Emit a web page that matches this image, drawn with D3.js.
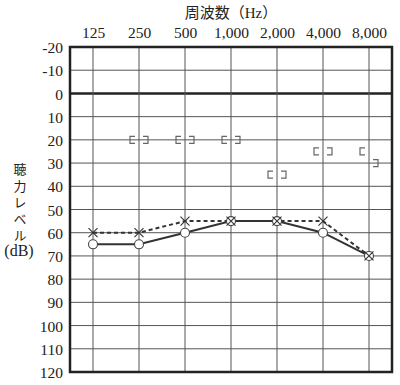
<!DOCTYPE html>
<html>
<head>
<meta charset="utf-8">
<script src="https://cdn.jsdelivr.net/npm/d3@7"></script>
<style>
  body { margin: 0; background: #fff; }
  svg { display: block; }
  text { font-family: "Liberation Serif", "DejaVu Serif", "Noto Sans CJK JP", serif; fill: #222; }
</style>
</head>
<body>
<div id="chart"></div>
<script>
// frequencies (Hz) and dB grid
const freqs = [125, 250, 500, 1000, 2000, 4000, 8000];
const dbTicks = d3.range(-20, 121, 10);

// air conduction thresholds
const rightAir = [65, 65, 60, 55, 55, 60, 70];   // circles, solid
const leftAir  = [60, 60, 55, 55, 55, 55, 70];   // crosses, dashed

// bone conduction (null = not measured)
const rightBone = [null, 20, 20, 20, 35, 25, 25]; // "["
const leftBone  = [null, 20, 20, 20, 35, 25, 30]; // "]"

const width = 400, height = 385;
const plotL = 70, plotR = 392, plotT = 47, plotB = 372;

const svg = d3.select("#chart").append("svg")
    .attr("width", width)
    .attr("height", height);

const x = d3.scaleLog().base(2)
    .domain([125 / Math.SQRT2, 8000 * Math.SQRT2])
    .range([plotL, plotR]);
const y = d3.scaleLinear()
    .domain([-20, 120])
    .range([plotT, plotB]);

// grid lines
const grid = svg.append("g").attr("stroke", "#555").attr("stroke-width", 1);
grid.selectAll("line.h")
    .data(dbTicks)
    .enter().append("line")
    .attr("x1", plotL).attr("x2", plotR)
    .attr("y1", d => y(d)).attr("y2", d => y(d))
    .attr("stroke", d => d === 0 ? "#222" : "#555")
    .attr("stroke-width", d => d === 0 ? 2.5 : 1);
grid.selectAll("line.v")
    .data(freqs)
    .enter().append("line")
    .attr("x1", d => x(d)).attr("x2", d => x(d))
    .attr("y1", plotT).attr("y2", plotB);

// outer frame
svg.append("rect")
    .attr("x", plotL).attr("y", plotT)
    .attr("width", plotR - plotL).attr("height", plotB - plotT)
    .attr("fill", "none")
    .attr("stroke", "#222")
    .attr("stroke-width", 2.5);

// axes (labels only)
const yAxis = svg.append("g")
    .attr("transform", `translate(${plotL - 7},0)`)
    .call(d3.axisLeft(y).tickValues(dbTicks).tickFormat(d => String(d)).tickSize(0).tickPadding(0));
yAxis.select(".domain").remove();
yAxis.selectAll("text")
    .attr("dy", "0.36em")
    .style("font-size", "15.5px")
    .style("font-family", "'Liberation Serif', serif")
    .attr("fill", "#222");

const xAxis = svg.append("g")
    .attr("transform", `translate(0,${plotT - 9})`)
    .call(d3.axisTop(x).tickValues(freqs).tickFormat(d3.format(",")).tickSize(0).tickPadding(0));
xAxis.select(".domain").remove();
xAxis.selectAll("text")
    .attr("dy", 0)
    .style("font-size", "15.5px")
    .style("font-family", "'Liberation Serif', serif")
    .attr("fill", "#222");

// titles
svg.append("text")
    .attr("x", 231).attr("y", 18)
    .attr("text-anchor", "middle")
    .style("font-size", "15px")
    .text("周波数（Hz）");

// vertical y title, one text element
svg.append("text")
    .attr("x", 20).attr("y", 163)
    .style("writing-mode", "vertical-rl")
    .style("font-size", "13px")
    .style("letter-spacing", "3.5px")
    .style("font-family", "'Noto Sans CJK JP', sans-serif")
    .text("聴力レベル");
svg.append("text")
    .attr("x", 19).attr("y", 256)
    .attr("text-anchor", "middle")
    .style("font-size", "16px")
    .text("(dB)");

// bone conduction brackets
const bw = 5, bh = 7, gap = 4;
function bracket(data, side) {
    svg.append("g")
        .attr("fill", "none")
        .attr("stroke", "#666")
        .attr("stroke-width", 1.2)
        .selectAll("path")
        .data(freqs.map((f, i) => ({ f, v: data[i] })).filter(d => d.v !== null))
        .enter().append("path")
        .attr("d", d => {
            const cx = x(d.f), cy = y(d.v);
            if (side === "L") {
                const x0 = cx - gap;
                return `M${x0},${cy - bh / 2}H${x0 - bw}V${cy + bh / 2}H${x0}`;
            }
            const x0 = cx + gap;
            return `M${x0},${cy - bh / 2}H${x0 + bw}V${cy + bh / 2}H${x0}`;
        });
}
bracket(rightBone, "L");
bracket(leftBone, "R");

// air conduction lines
const line = d3.line()
    .x((d, i) => x(freqs[i]))
    .y(d => y(d));

svg.append("path")
    .datum(leftAir)
    .attr("d", line)
    .attr("fill", "none")
    .attr("stroke", "#333")
    .attr("stroke-width", 2)
    .attr("stroke-dasharray", "4,3");

svg.append("path")
    .datum(rightAir)
    .attr("d", line)
    .attr("fill", "none")
    .attr("stroke", "#333")
    .attr("stroke-width", 2);

// circles (right ear)
svg.append("g").selectAll("circle")
    .data(rightAir)
    .enter().append("circle")
    .attr("cx", (d, i) => x(freqs[i]))
    .attr("cy", d => y(d))
    .attr("r", 4.5)
    .attr("fill", "#fff")
    .attr("stroke", "#444")
    .attr("stroke-width", 1.1);

// crosses (left ear)
const s = 4.5;
svg.append("g").selectAll("path")
    .data(leftAir)
    .enter().append("path")
    .attr("d", (d, i) => {
        const cx = x(freqs[i]), cy = y(d);
        return `M${cx - s},${cy - s}L${cx + s},${cy + s}M${cx - s},${cy + s}L${cx + s},${cy - s}`;
    })
    .attr("stroke", "#333")
    .attr("stroke-width", 1.1);
</script>
</body>
</html>
